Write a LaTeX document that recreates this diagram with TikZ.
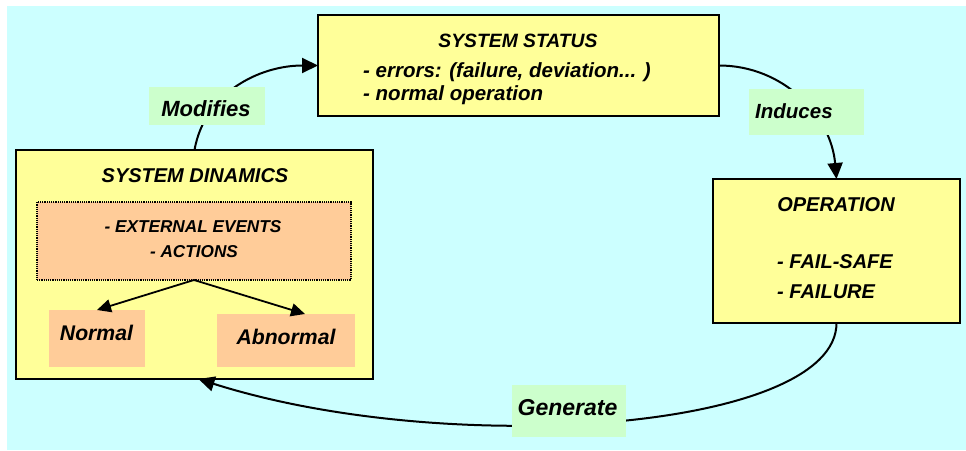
\documentclass[tikz,border=0pt]{standalone}
\usepackage{fontspec}
\setmainfont{Liberation Sans}
\usetikzlibrary{arrows.meta}

\definecolor{bgcyan}{HTML}{CCFFFF}
\definecolor{boxyellow}{HTML}{FFFF99}
\definecolor{lblgreen}{HTML}{CCFFCC}
\definecolor{evtorange}{HTML}{FFCC99}

\tikzset{
  ybox/.style={draw=black, line width=1.8pt, fill=boxyellow, inner sep=0pt, outer sep=0pt},
  evbox/.style={draw=black, densely dotted, line width=1.2pt, fill=evtorange, inner sep=0pt, outer sep=0pt},
  obox/.style={fill=evtorange, inner sep=0pt, outer sep=0pt},
  lbox/.style={fill=lblgreen, inner sep=0pt, outer sep=0pt},
  conn/.style={line width=2pt, -{Triangle[length=16pt,width=15pt]}},
  subconn/.style={line width=1.8pt, -{Triangle[length=14pt,width=13pt]}},
  txt/.style={inner sep=0pt},
  fs/.style={font=\bfseries\itshape\fontsize{#1}{#1}\selectfont},
}

\begin{document}
\begin{tikzpicture}[x=1pt, y=-1pt]
  % canvas and backdrop
  \useasboundingbox (0,0) rectangle (966,450);
  \fill[bgcyan] (7,6) rectangle (966,450);

  % main boxes
  \node[ybox, minimum width=401pt, minimum height=101pt] (status) at (518.5,65.5) {};
  \node[ybox, minimum width=247pt, minimum height=144pt] (op) at (836.5,251) {};
  \node[ybox, minimum width=357pt, minimum height=229pt] (sd) at (194.5,264.5) {};

  % system status text
  \node[txt, fs=19.3, anchor=base] (stT) at (518,47) {SYSTEM STATUS};
  \node[txt, fs=20.5, anchor=base west] (stA) at (363,77) {- errors: (failure, deviation... )};
  \node[txt, fs=20.5, anchor=base west] (stB) at (363,100) {- normal operation};

  % operation text
  \node[txt, fs=20, anchor=base] (opT) at (836,211) {OPERATION};
  \node[txt, fs=20, anchor=base west] (opA) at (777,268) {- FAIL-SAFE};
  \node[txt, fs=20, anchor=base west] (opB) at (777,298) {- FAILURE};

  % system dynamics contents
  \node[txt, fs=20, anchor=base] (sdT) at (195,182) {SYSTEM DINAMICS};
  \node[evbox, minimum width=314pt, minimum height=78pt] (ev) at (194,241) {};
  \node[txt, fs=17.2, anchor=base] (evA) at (193,232) {- EXTERNAL EVENTS};
  \node[txt, fs=17.2, anchor=base] (evB) at (194,257) {- ACTIONS};
  \node[obox, minimum width=96pt, minimum height=57pt] (nor) at (97,338.5) {};
  \node[obox, minimum width=138pt, minimum height=53pt] (abn) at (286,340.5) {};
  \node[txt, fs=21.2, anchor=base] (norT) at (96.5,340) {Normal};
  \node[txt, fs=21.2, anchor=base] (abnT) at (286,344) {Abnormal};

  \draw[subconn] (ev.south) -- (nor.north);
  \draw[subconn] (ev.south) -- ([xshift=19pt]abn.north);

  % cycle connectors
  \draw[conn] (sd.north) to[out=80, in=180] (status.west);
  \draw[conn] (status.east) to[out=0, in=95] (op.north);
  \draw[conn] (op.south) .. controls +(0,107) and +(252,80) .. ([xshift=4pt]sd.south);

  % connector labels
  \node[lbox, minimum width=116pt, minimum height=38pt] (mod) at (207,106) {};
  \node[txt, fs=22, anchor=base] at (206,116) {Modifies};
  \node[lbox, minimum width=115pt, minimum height=46pt] (ind) at (806.5,112) {};
  \node[txt, fs=20.5, anchor=base west] at (755,118) {Induces};
  \node[lbox, minimum width=114pt, minimum height=52pt] (gen) at (569,411) {};
  \node[txt, fs=23, anchor=base] at (567.5,415) {Generate};
\end{tikzpicture}
\end{document}
